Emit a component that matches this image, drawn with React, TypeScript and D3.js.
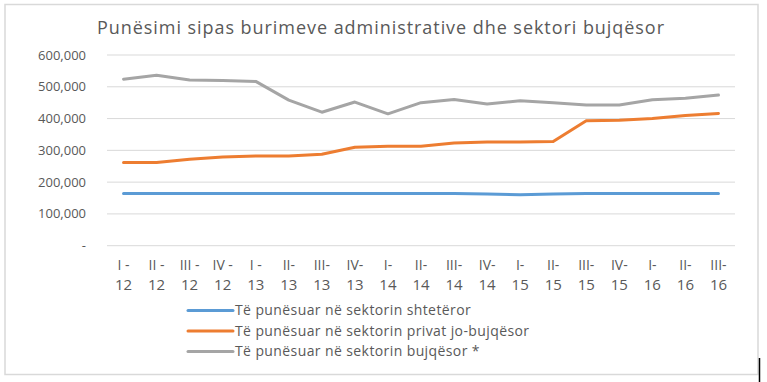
import React from "react";
import * as d3 from "d3";

const title = "Punësimi sipas burimeve administrative dhe sektori bujqësor";
const categoriesTop = ["I -", "II -", "III -", "IV -", "I -", "II-", "III-", "IV-", "I-", "II-", "III-", "IV-", "I-", "II-", "III-", "IV-", "I-", "II-", "III-"];
const categoriesBottom = ["12", "12", "12", "12", "13", "13", "13", "13", "14", "14", "14", "14", "15", "15", "15", "15", "16", "16", "16"];
const seriesNames = [
  "Të punësuar në sektorin shtetëror",
  "Të punësuar në sektorin privat jo-bujqësor",
  "Të punësuar në sektorin bujqësor *",
];
const stateSector = [164000, 164000, 164000, 164000, 164000, 164000, 164000, 164000, 164000, 164000, 164000, 163000, 160000, 163000, 164000, 164000, 164000, 164000, 164000];
const privateSector = [262000, 262000, 272000, 279000, 282000, 282000, 288000, 310000, 313000, 313000, 323000, 326000, 326000, 328000, 393000, 395000, 400000, 410000, 416000];
const agriSector = [524000, 536000, 521000, 520000, 517000, 458000, 420000, 452000, 415000, 450000, 460000, 446000, 456000, 450000, 443000, 443000, 459000, 464000, 474000];
const yTicks = [0, 100000, 200000, 300000, 400000, 500000, 600000];
const colors = ["#5b9bd5", "#ed7d31", "#a5a5a5"];

const W = 767;
const H = 382;
const FONT = "'Open Sans', sans-serif";

export default function App() {
  const idx = d3.range(categoriesTop.length);
  const x = d3.scaleBand<number>().domain(idx).range([107, 735]);
  const y = d3.scaleLinear().domain([0, 600000]).range([245.7, 55]);
  const fmt = d3.format(",");
  const line = d3
    .line<number>()
    .x((_, i) => (x(i) as number) + x.bandwidth() / 2)
    .y((v) => y(v));
  const series = [stateSector, privateSector, agriSector];

  return (
    <svg
      width={W}
      height={H}
      style={{ position: "absolute", left: 0, top: 0, background: "#fff" }}
      fontFamily={FONT}
    >
      <rect x={5} y={4.5} width={753} height={370} fill="#fff" stroke="#d9d9d9" strokeWidth={1.5} />
      <line x1={759.5} x2={759.5} y1={358} y2={382} stroke="#000" strokeWidth={1.5} />
      <text x={380.5} y={34} textAnchor="middle" fontSize={18} fill="#595959" textLength={567} lengthAdjust="spacing">
        {title}
      </text>
      {yTicks.map((t) => (
        <g key={t}>
          <line x1={107} x2={735} y1={y(t)} y2={y(t)} stroke="#d9d9d9" strokeWidth={1} />
          <text x={86} y={y(t)} dy="0.35em" textAnchor="end" fontSize={13} fill="#595959">
            {t === 0 ? "-" : fmt(t)}
          </text>
        </g>
      ))}
      {idx.map((i) => {
        const cx = (x(i) as number) + x.bandwidth() / 2;
        return (
          <g key={i}>
            <text x={cx} y={270} textAnchor="middle" fontSize={14} fill="#595959">
              {categoriesTop[i]}
            </text>
            <text x={cx} y={290} textAnchor="middle" fontSize={15} fill="#595959">
              {categoriesBottom[i]}
            </text>
          </g>
        );
      })}
      {series.map((s, k) => (
        <path key={k} d={line(s) || ""} fill="none" stroke={colors[k]} strokeWidth={3} strokeLinejoin="round" strokeLinecap="round" />
      ))}
      {seriesNames.map((n, k) => {
        const ly = 310.5 + k * 20.5;
        return (
          <g key={n}>
            <line x1={188} x2={233} y1={ly} y2={ly} stroke={colors[k]} strokeWidth={3} strokeLinecap="round" />
            <text x={235} y={ly} dy="0.35em" fontSize={14} letterSpacing={0.4} fill="#595959">
              {n}
            </text>
          </g>
        );
      })}
    </svg>
  );
}
